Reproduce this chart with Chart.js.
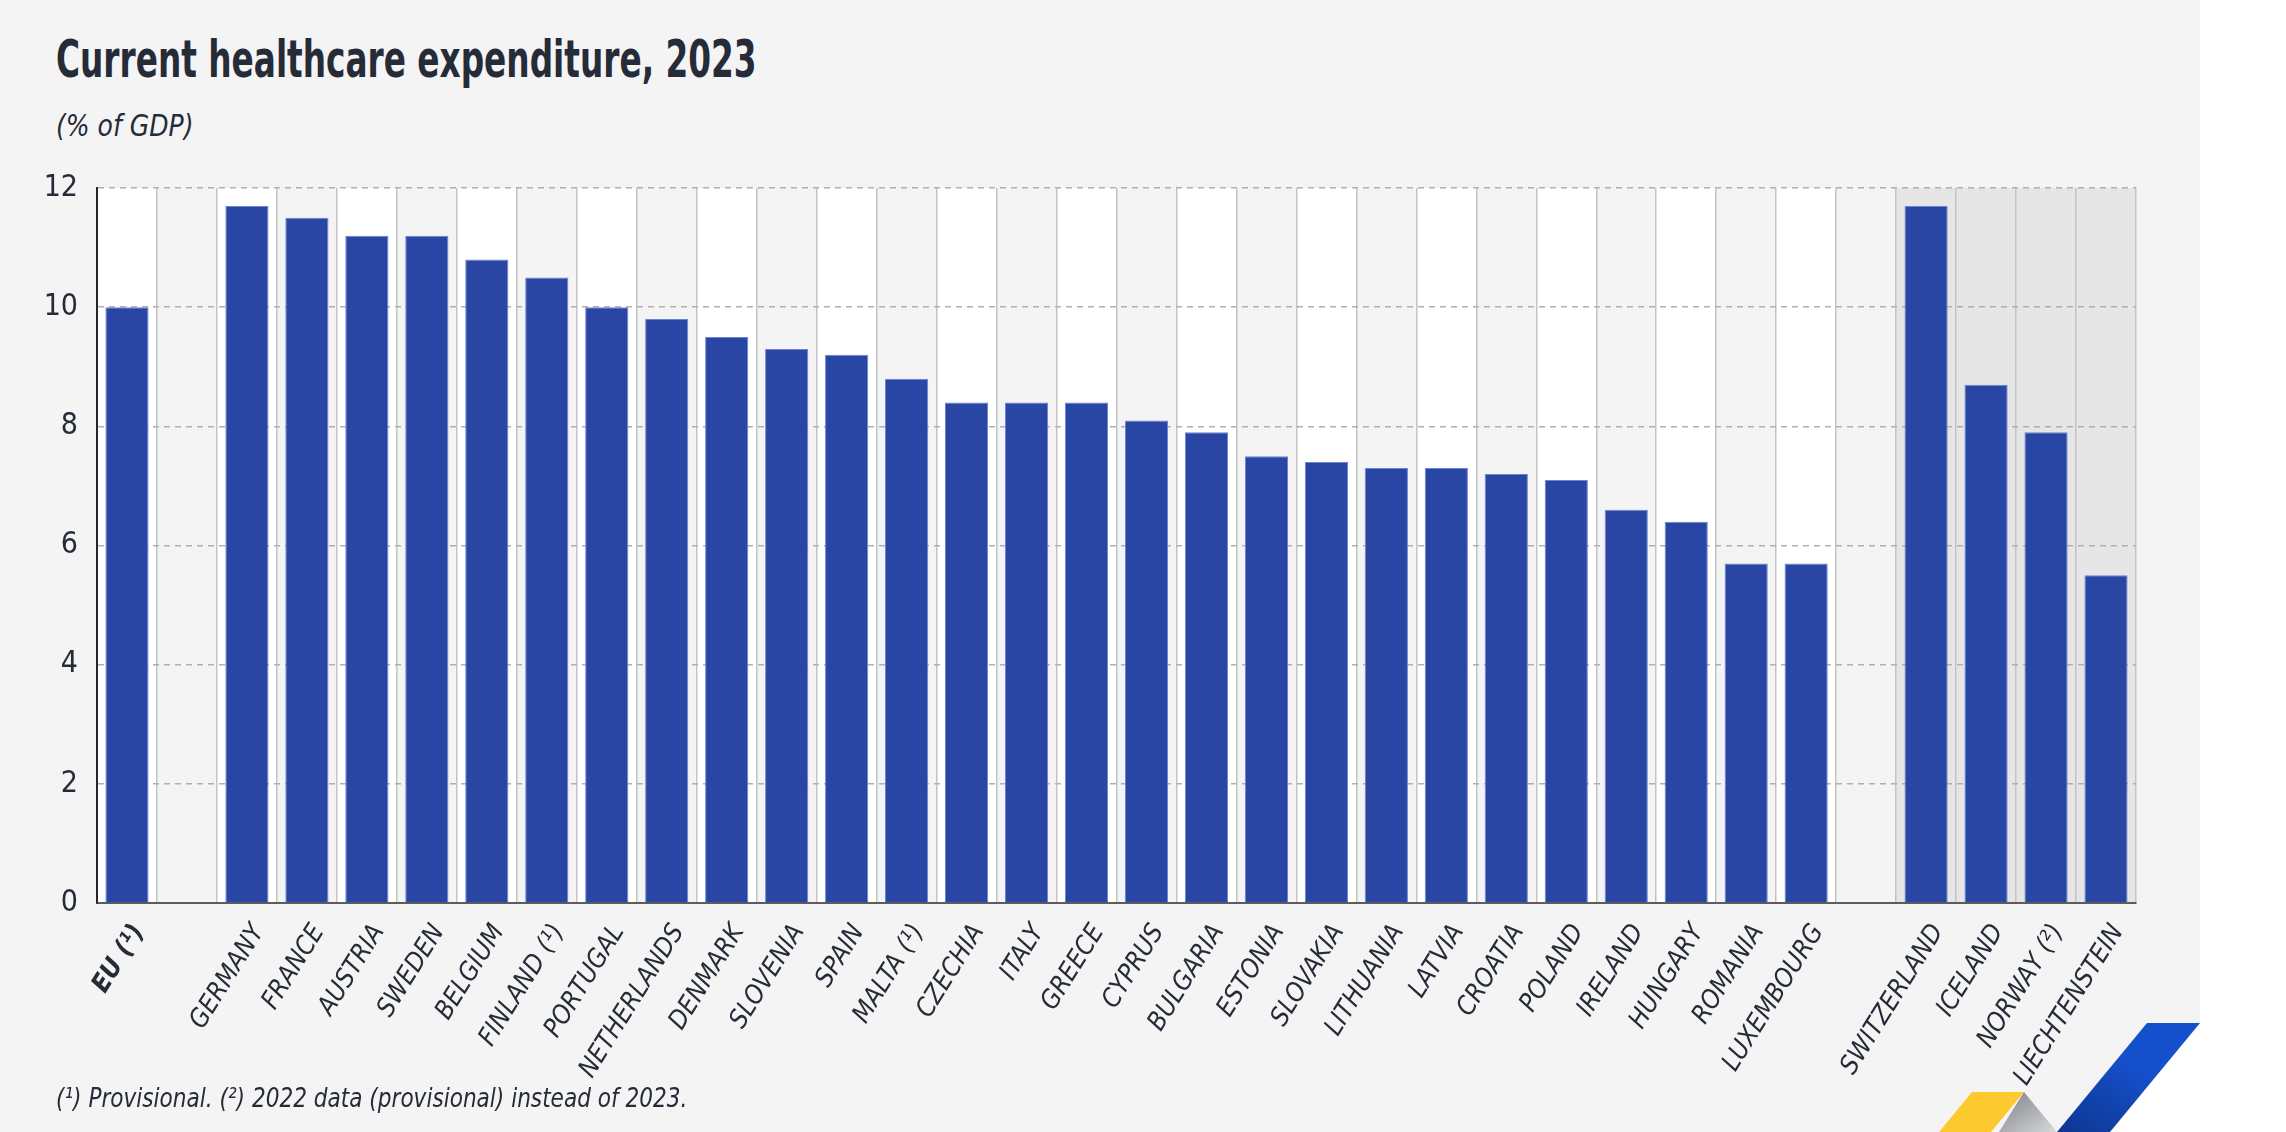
<!DOCTYPE html>
<html>
<head>
<meta charset="utf-8">
<script src="https://cdn.jsdelivr.net/npm/chart.js@4.4.1/dist/chart.umd.min.js"></script>
<style>
  html, body { margin: 0; padding: 0; }
  body {
    width: 2286px; height: 1132px; position: relative; overflow: hidden; background: #ffffff;
    font-family: "DejaVu Sans Condensed", "Liberation Sans Narrow", sans-serif; color: #262b38;
  }
  #panel { position: absolute; left: 0; top: 0; width: 2200px; height: 1132px; background: #f4f4f4; }
  #chartBox { position: absolute; left: 0; top: 0; width: 2200px; height: 1132px; }
  .title {
    position: absolute; left: 56px; top: 33px; font-size: 52px; font-weight: bold; line-height: 1;
    transform: scaleX(0.7); transform-origin: left top; white-space: nowrap;
  }
  .subtitle {
    position: absolute; left: 56px; top: 110px; font-size: 31px; font-style: italic; line-height: 1;
    transform: scaleX(0.9); transform-origin: left top; white-space: nowrap;
  }
  .note {
    position: absolute; left: 56px; top: 1084px; font-size: 27px; font-style: italic; line-height: 1;
    transform: scaleX(0.89); transform-origin: left top; white-space: nowrap;
  }
  #logo { position: absolute; left: 0; top: 0; }
</style>
</head>
<body>
<div id="panel"></div>
<div class="title">Current healthcare expenditure, 2023</div>
<div class="subtitle">(% of GDP)</div>
<div id="chartBox"><canvas id="chart" width="2200" height="1132"></canvas></div>
<div class="note">(¹) Provisional. (²) 2022 data (provisional) instead of 2023.</div>
<svg id="logo" width="2286" height="1132">
  <defs>
    <linearGradient id="blueRib" x1="0" y1="1" x2="1" y2="0">
      <stop offset="0" stop-color="#0d3690"/>
      <stop offset="0.6" stop-color="#1550cc"/>
    </linearGradient>
    <linearGradient id="greyRib" x1="0" y1="0" x2="1" y2="1">
      <stop offset="0" stop-color="#7e8087"/>
      <stop offset="1" stop-color="#d8d9dc"/>
    </linearGradient>
  </defs>
  <polygon points="2200,1023 2200,1132 2110,1132" fill="#ffffff"/>
  <polygon points="1972,1092 2024,1092 1991,1132 1939,1132" fill="#fcca2e"/>
  <polygon points="2024,1092 2057,1132 1999,1132" fill="url(#greyRib)"/>
  <polygon points="2147,1023 2200,1023 2110,1132 2057,1132" fill="url(#blueRib)"/>
</svg>

<script>
// countries, in the order shown ('' = empty spacer column)
const categories = [
  'EU (¹)', '',
  'GERMANY', 'FRANCE', 'AUSTRIA', 'SWEDEN', 'BELGIUM', 'FINLAND (¹)', 'PORTUGAL',
  'NETHERLANDS', 'DENMARK', 'SLOVENIA', 'SPAIN', 'MALTA (¹)', 'CZECHIA', 'ITALY',
  'GREECE', 'CYPRUS', 'BULGARIA', 'ESTONIA', 'SLOVAKIA', 'LITHUANIA', 'LATVIA',
  'CROATIA', 'POLAND', 'IRELAND', 'HUNGARY', 'ROMANIA', 'LUXEMBOURG', '',
  'SWITZERLAND', 'ICELAND', 'NORWAY (²)', 'LIECHTENSTEIN'
];

// % of GDP
const values = [
  10.0, null,
  11.7, 11.5, 11.2, 11.2, 10.8, 10.5, 10.0,
  9.8, 9.5, 9.3, 9.2, 8.8, 8.4, 8.4,
  8.4, 8.1, 7.9, 7.5, 7.4, 7.3, 7.3,
  7.2, 7.1, 6.6, 6.4, 5.7, 5.7, null,
  11.7, 8.7, 7.9, 5.5
];

const eftaCountries = ['SWITZERLAND', 'ICELAND', 'NORWAY (²)', 'LIECHTENSTEIN'];
const yTicks = [0, 2, 4, 6, 8, 10, 12];

const FONT = '"DejaVu Sans Condensed", "Liberation Sans Narrow", sans-serif';
const TEXT = '#262b38';

// alternating column backgrounds, darker for the EFTA block
const columnShading = {
  id: 'columnShading',
  beforeDraw(chart) {
    const { ctx, chartArea, scales: { x } } = chart;
    const half = (x.getPixelForValue(1) - x.getPixelForValue(0)) / 2;
    ctx.save();
    categories.forEach((c, i) => {
      let fill = null;
      if (eftaCountries.includes(c)) fill = '#e6e6e6';
      else if (i % 2 === 0) fill = '#ffffff';
      if (!fill) return;
      const cx = x.getPixelForValue(i);
      ctx.fillStyle = fill;
      ctx.fillRect(cx - half, chartArea.top, half * 2, chartArea.bottom - chartArea.top);
    });
    ctx.restore();
  }
};

new Chart(document.getElementById('chart'), {
  type: 'bar',
  data: {
    labels: categories,
    datasets: [{
      data: values,
      backgroundColor: '#2a46a5',
      borderColor: '#6a84cf',
      borderWidth: 1,
      categoryPercentage: 1,
      barPercentage: 0.72
    }]
  },
  options: {
    responsive: false,
    animation: false,
    devicePixelRatio: 1,
    layout: { padding: { top: 188, right: 64, left: 0, bottom: 0 } },
    plugins: { legend: { display: false }, tooltip: { enabled: false } },
    scales: {
      x: {
        offset: true,
        grid: { color: '#c4c4c4', lineWidth: 1.5, drawTicks: false, offset: true },
        border: { display: true, color: '#5c5c5c', width: 2 },
        ticks: {
          color: TEXT,
          autoSkip: false,
          minRotation: 58,
          maxRotation: 58,
          padding: 16,
          labelOffset: 12,
          font: (ctx) => ({ family: FONT, size: 26, style: 'italic', weight: ctx.index === 0 ? 'bold' : 'normal' })
        },
        afterFit(scale) { scale.height = 229; }
      },
      y: {
        min: 0,
        max: 12,
        grid: { color: '#b0b0b0', lineWidth: 1.5, drawTicks: false },
        border: { display: true, color: '#262626', width: 2, dash: [6, 5] },
        ticks: { color: TEXT, padding: 19, font: { family: FONT, size: 30 } },
        afterBuildTicks(scale) { scale.ticks = yTicks.map(v => ({ value: v })); },
        afterFit(scale) { scale.width = 97; }
      }
    }
  },
  plugins: [columnShading]
});
</script>
</body>
</html>
